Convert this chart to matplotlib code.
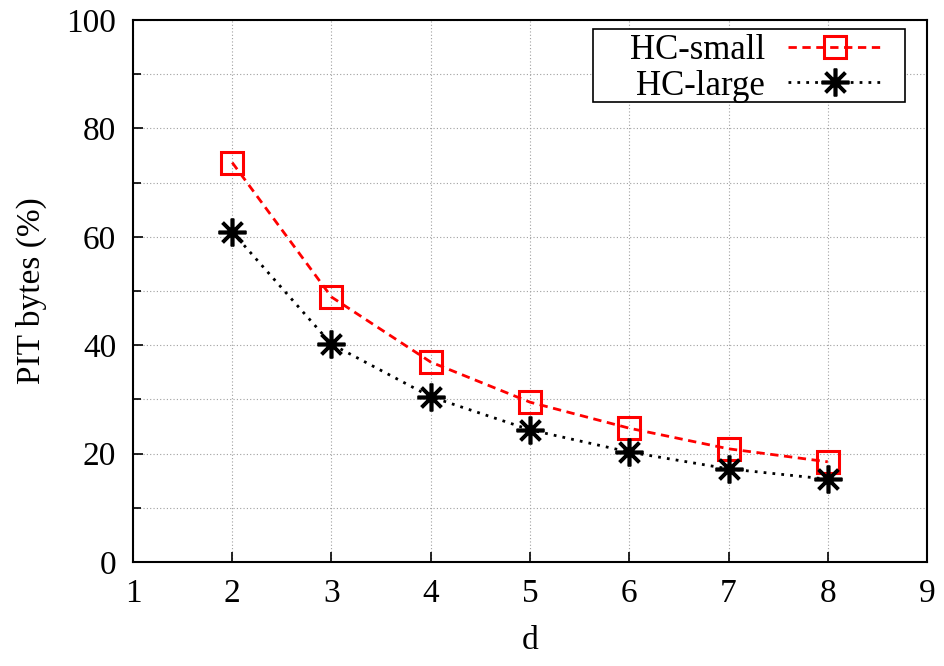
import matplotlib
matplotlib.use("Agg")
import matplotlib.pyplot as plt
from matplotlib.ticker import MultipleLocator
from matplotlib.patches import Rectangle

d_values = [2, 3, 4, 5, 6, 7, 8]
hc_small = [73.7, 48.9, 36.9, 29.5, 24.7, 20.9, 18.5]
hc_large = [60.9, 40.2, 30.5, 24.4, 20.3, 17.2, 15.3]
x_ticks = [1, 2, 3, 4, 5, 6, 7, 8, 9]
y_ticks = [0, 20, 40, 60, 80, 100]

plt.rcParams['font.family'] = ['Liberation Serif', 'DejaVu Serif']

fig = plt.figure(figsize=(9.45, 6.66), dpi=100)
ax = fig.add_axes([0.1407, 0.156, 0.8403, 0.814])

ax.plot(d_values, hc_small, color='#ff0000', linestyle=(0, (3, 2)), linewidth=2,
        marker='s', markersize=16.5, markerfacecolor='none', markeredgecolor='#ff0000',
        markeredgewidth=2.2, label='HC-small')
ax.plot(d_values, hc_large, color='black', linestyle=(0, (1, 2.2)), linewidth=2,
        marker=(8, 2, 0), markersize=20, markeredgecolor='black',
        markeredgewidth=2.6, label='HC-large')

ax.set_xlim(1, 9)
ax.set_ylim(0, 100)
ax.set_xticks(x_ticks)
ax.set_yticks(y_ticks)
ax.yaxis.set_minor_locator(MultipleLocator(10))
ax.grid(True, which='both', color='#a0a0a0', linestyle=(0, (1, 2)), linewidth=0.8)
ax.tick_params(which='both', direction='in', length=7, width=1.2, labelsize=24,
               top=False, right=False, pad=12)
ax.tick_params(which='minor', length=6)
for s in ax.spines.values():
    s.set_linewidth(1.5)

ax.set_xlabel('d', fontsize=24, labelpad=12)
ax.set_ylabel('PIT bytes (%)', fontsize=24, labelpad=14)

# legend frame drawn as a box
box = Rectangle((0.579, 0.849), 0.393, 0.134, transform=ax.transAxes,
                facecolor='white', edgecolor='black', linewidth=1.2,
                zorder=4.5, clip_on=False)
ax.add_patch(box)

leg = ax.legend(loc='center right', bbox_to_anchor=(0.9446, 0.911), markerfirst=False,
                fontsize=25, frameon=False, handlelength=2.74, handletextpad=0.66,
                borderpad=0, labelspacing=0.08, borderaxespad=0)
leg.set_zorder(5)
for t in leg.get_texts():
    t.set_ha('right')

fig.savefig('out.png', dpi=100)
